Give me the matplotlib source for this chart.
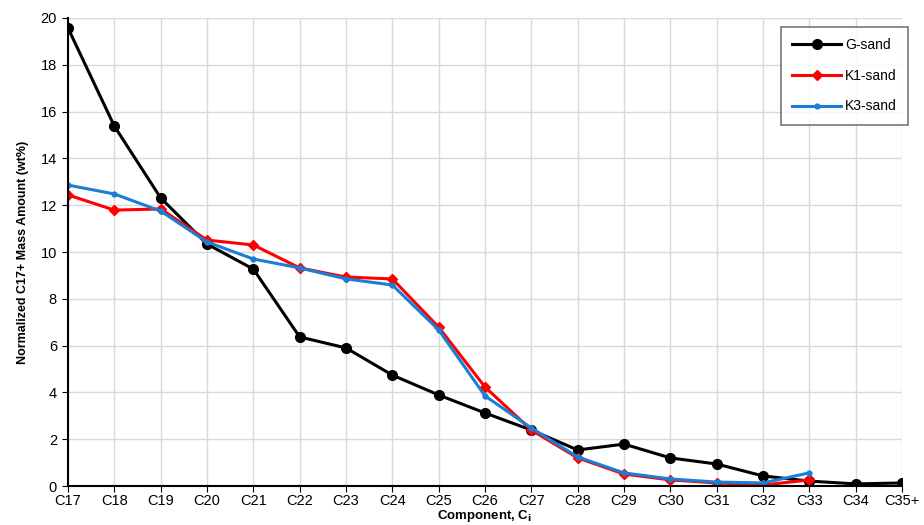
import matplotlib
matplotlib.use("Agg")
import matplotlib.pyplot as plt

plt.rcParams['font.family'] = ['Liberation Sans', 'DejaVu Sans']

categories = ["C17", "C18", "C19", "C20", "C21", "C22", "C23", "C24", "C25", "C26",
              "C27", "C28", "C29", "C30", "C31", "C32", "C33", "C34", "C35+"]
g_sand = [19.57, 15.38, 12.31, 10.34, 9.27, 6.37, 5.90, 4.74, 3.89, 3.12,
          2.39, 1.54, 1.79, 1.20, 0.94, 0.43, 0.21, 0.09, 0.13]
k1_sand = [12.44, 11.79, 11.84, 10.51, 10.30, 9.32, 8.93, 8.85, 6.79, 4.23,
           2.39, 1.20, 0.51, 0.26, 0.13, 0.04, 0.26]
k3_sand = [12.86, 12.48, 11.75, 10.43, 9.70, 9.32, 8.85, 8.59, 6.67, 3.85,
           2.48, 1.24, 0.56, 0.30, 0.17, 0.13, 0.56]

fig = plt.figure(figsize=(9.24, 5.25), dpi=100)
ax = fig.add_axes([68/924, 1-486/525, (902-68)/924, (486-18)/525])

x = list(range(len(categories)))
ax.plot(x, g_sand, color='black', lw=2.2, marker='o', ms=7, label='G-sand', zorder=3)
ax.plot(x[:len(k1_sand)], k1_sand, color='#ff0000', lw=2.2, marker='D', ms=5, label='K1-sand', zorder=4)
ax.plot(x[:len(k3_sand)], k3_sand, color='#1a7fd4', lw=2.2, marker='o', ms=3.5, label='K3-sand', zorder=5)

ax.set_xlim(0, 18)
ax.set_ylim(0, 20)
ax.set_xticks(x)
ax.set_xticklabels(categories, fontsize=10.5)
ax.set_yticks(range(0, 21, 2))
ax.tick_params(axis='y', labelsize=10.5, length=4, direction='out', pad=4)
ax.tick_params(axis='x', length=4, direction='out', pad=2)
ax.grid(True, color='#d9d9d9', lw=1)
ax.set_axisbelow(True)
for s in ['top', 'right']:
    ax.spines[s].set_visible(False)
ax.spines['left'].set_linewidth(1.5)
ax.spines['bottom'].set_linewidth(1.5)
ax.spines['left'].set_zorder(6)
ax.spines['bottom'].set_zorder(6)

ax.set_ylabel('Normalized C17+ Mass Amount (wt%)', fontsize=9, fontweight='bold', labelpad=8)
ax.set_xlabel('Component, C$_\\mathbf{i}$', fontsize=9.5, fontweight='bold', labelpad=0)

leg = ax.legend(loc='upper right', bbox_to_anchor=(908/924, 1-27/525), bbox_transform=fig.transFigure,
                fontsize=10, frameon=True, fancybox=False, edgecolor='#555555',
                handlelength=3.5, labelspacing=1.2, borderpad=0.8, handletextpad=0.3,
                borderaxespad=0)
leg.get_frame().set_linewidth(1.2)

fig.savefig('out.png', dpi=100)
